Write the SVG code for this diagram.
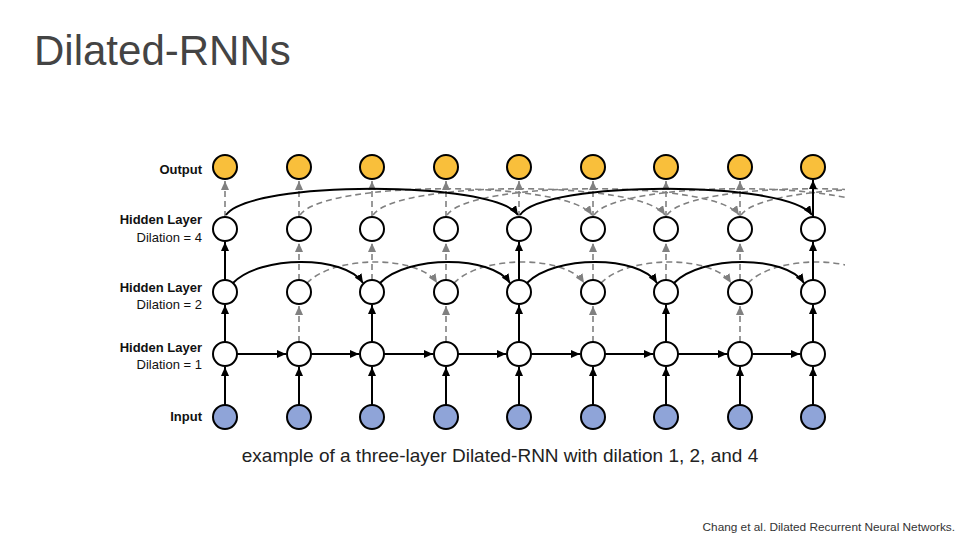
<svg xmlns="http://www.w3.org/2000/svg" width="960" height="540" viewBox="0 0 960 540">
<style>
.t{font-family:"Liberation Sans",Arial,sans-serif}
.lb{font-family:"Liberation Sans",Arial,sans-serif;font-size:13px;font-weight:bold;fill:#111;text-anchor:end}
.ln{font-family:"Liberation Sans",Arial,sans-serif;font-size:13px;fill:#111;text-anchor:end}
.s{fill:none;stroke:#000;stroke-width:2;marker-end:url(#ab)}
.d{fill:none;stroke:#808080;stroke-width:1.6;stroke-dasharray:6 4;marker-end:url(#ag)}
.n{stroke:#000;stroke-width:2;fill:#fff}
.o{stroke:#000;stroke-width:2;fill:#F9BF3B}
.i{stroke:#000;stroke-width:2;fill:#8FA4D8}
</style>
<defs>
<marker id="ab" markerUnits="userSpaceOnUse" markerWidth="10" markerHeight="8" refX="9" refY="4" orient="auto"><path d="M0,0 L9,4 L0,8 z" fill="#000"/></marker>
<marker id="ag" markerUnits="userSpaceOnUse" markerWidth="10" markerHeight="8" refX="9" refY="4" orient="auto"><path d="M0,0 L9,4 L0,8 z" fill="#808080"/></marker>
<clipPath id="cp"><rect x="0" y="0" width="845" height="540"/></clipPath>
</defs>
<rect width="960" height="540" fill="#fff"/>
<text class="t" x="34" y="65" font-size="42" fill="#444">Dilated-RNNs</text>
<g id="labels">
<text class="lb" x="202" y="174">Output</text>
<text class="lb" x="202" y="224">Hidden Layer</text>
<text class="ln" x="202" y="242">Dilation = 4</text>
<text class="lb" x="202" y="292">Hidden Layer</text>
<text class="ln" x="202" y="309">Dilation = 2</text>
<text class="lb" x="202" y="352">Hidden Layer</text>
<text class="ln" x="202" y="369">Dilation = 1</text>
<text class="lb" x="202" y="421">Input</text>
</g>
<g id="connectors" clip-path="url(#cp)">
<!-- dashed verticals dil1 -> dil2 -->
<path class="d" d="M299,342V306"/><path class="d" d="M446,342V306"/><path class="d" d="M593,342V306"/><path class="d" d="M740,342V306"/>
<!-- dashed verticals dil2 -> dil4 -->
<path class="d" d="M299,280V243"/><path class="d" d="M372,280V243"/><path class="d" d="M446,280V243"/>
<path class="d" d="M593,280V243"/><path class="d" d="M666,280V243"/><path class="d" d="M740,280V243"/>
<!-- dashed verticals dil4 -> output -->
<path class="d" d="M225,217V181"/><path class="d" d="M299,217V181"/><path class="d" d="M372,217V181"/><path class="d" d="M446,217V181"/>
<path class="d" d="M519,217V181"/><path class="d" d="M593,217V181"/><path class="d" d="M666,217V181"/><path class="d" d="M740,217V181"/>
<!-- dashed dil2 arcs -->
<path class="d" d="M307,283 C334,255 419,255 437,283"/>
<path class="d" d="M454,283 C481,255 566,255 584,283"/>
<path class="d" d="M601,283 C628,255 713,255 731,283"/>
<path class="d" d="M748,283 C775,255 860,255 878,283"/>
<!-- dashed dil4 arcs -->
<path class="d" d="M300,215 C324,180 568,180 592,215"/>
<path class="d" d="M373,215 C397,180 641,180 665,215"/>
<path class="d" d="M447,215 C471,180 715,180 739,215"/>
<path class="d" d="M594,215 C618,180 862,180 886,215"/>
<path class="d" d="M667,215 C691,180 935,180 959,215"/>
<path class="d" d="M741,215 C765,180 1009,180 1033,215"/>
<!-- solid input -> dil1 -->
<path class="s" d="M225,405V367"/><path class="s" d="M299,405V367"/><path class="s" d="M372,405V367"/>
<path class="s" d="M446,405V367"/><path class="s" d="M519,405V367"/><path class="s" d="M593,405V367"/>
<path class="s" d="M666,405V367"/><path class="s" d="M740,405V367"/><path class="s" d="M813,405V367"/>
<!-- dil1 horizontal -->
<path class="s" d="M237,354H286"/><path class="s" d="M311,354H359"/><path class="s" d="M384,354H433"/>
<path class="s" d="M458,354H506"/><path class="s" d="M531,354H580"/><path class="s" d="M605,354H653"/>
<path class="s" d="M678,354H727"/><path class="s" d="M752,354H800"/>
<!-- dil1 -> dil2 solid -->
<path class="s" d="M225,342V305"/><path class="s" d="M372,342V305"/><path class="s" d="M519,342V305"/>
<path class="s" d="M666,342V305"/><path class="s" d="M813,342V305"/>
<!-- dil2 arcs solid -->
<path class="s" d="M233,283 C260,255 345,255 363,283"/>
<path class="s" d="M380,283 C407,255 492,255 510,283"/>
<path class="s" d="M527,283 C554,255 639,255 657,283"/>
<path class="s" d="M674,283 C701,255 786,255 804,283"/>
<!-- dil2 -> dil4 solid -->
<path class="s" d="M225,280V242"/><path class="s" d="M519,280V242"/><path class="s" d="M813,280V242"/>
<!-- dil4 arcs solid -->
<path class="s" d="M226,215 C250,180 494,180 518,215"/>
<path class="s" d="M520,215 C544,180 788,180 812,215"/>
<!-- dil4 -> output solid -->
<path class="s" d="M813,217V180"/>
</g>
<g id="output-nodes">
<circle class="o" cx="225" cy="167" r="12"/><circle class="o" cx="299" cy="167" r="12"/><circle class="o" cx="372" cy="167" r="12"/>
<circle class="o" cx="446" cy="167" r="12"/><circle class="o" cx="519" cy="167" r="12"/><circle class="o" cx="593" cy="167" r="12"/>
<circle class="o" cx="666" cy="167" r="12"/><circle class="o" cx="740" cy="167" r="12"/><circle class="o" cx="813" cy="167" r="12"/>
</g>
<g id="dil4-nodes">
<circle class="n" cx="225" cy="229" r="12"/><circle class="n" cx="299" cy="229" r="12"/><circle class="n" cx="372" cy="229" r="12"/>
<circle class="n" cx="446" cy="229" r="12"/><circle class="n" cx="519" cy="229" r="12"/><circle class="n" cx="593" cy="229" r="12"/>
<circle class="n" cx="666" cy="229" r="12"/><circle class="n" cx="740" cy="229" r="12"/><circle class="n" cx="813" cy="229" r="12"/>
</g>
<g id="dil2-nodes">
<circle class="n" cx="225" cy="292" r="12"/><circle class="n" cx="299" cy="292" r="12"/><circle class="n" cx="372" cy="292" r="12"/>
<circle class="n" cx="446" cy="292" r="12"/><circle class="n" cx="519" cy="292" r="12"/><circle class="n" cx="593" cy="292" r="12"/>
<circle class="n" cx="666" cy="292" r="12"/><circle class="n" cx="740" cy="292" r="12"/><circle class="n" cx="813" cy="292" r="12"/>
</g>
<g id="dil1-nodes">
<circle class="n" cx="225" cy="354" r="12"/><circle class="n" cx="299" cy="354" r="12"/><circle class="n" cx="372" cy="354" r="12"/>
<circle class="n" cx="446" cy="354" r="12"/><circle class="n" cx="519" cy="354" r="12"/><circle class="n" cx="593" cy="354" r="12"/>
<circle class="n" cx="666" cy="354" r="12"/><circle class="n" cx="740" cy="354" r="12"/><circle class="n" cx="813" cy="354" r="12"/>
</g>
<g id="input-nodes">
<circle class="i" cx="225" cy="417" r="12"/><circle class="i" cx="299" cy="417" r="12"/><circle class="i" cx="372" cy="417" r="12"/>
<circle class="i" cx="446" cy="417" r="12"/><circle class="i" cx="519" cy="417" r="12"/><circle class="i" cx="593" cy="417" r="12"/>
<circle class="i" cx="666" cy="417" r="12"/><circle class="i" cx="740" cy="417" r="12"/><circle class="i" cx="813" cy="417" r="12"/>
</g>
<text class="t" x="500" y="462" font-size="19" fill="#222" text-anchor="middle">example of a three-layer Dilated-RNN with dilation 1, 2, and 4</text>
<text class="t" x="955" y="531" font-size="11.8" fill="#333" text-anchor="end">Chang et al. Dilated Recurrent Neural Networks.</text>
</svg>
